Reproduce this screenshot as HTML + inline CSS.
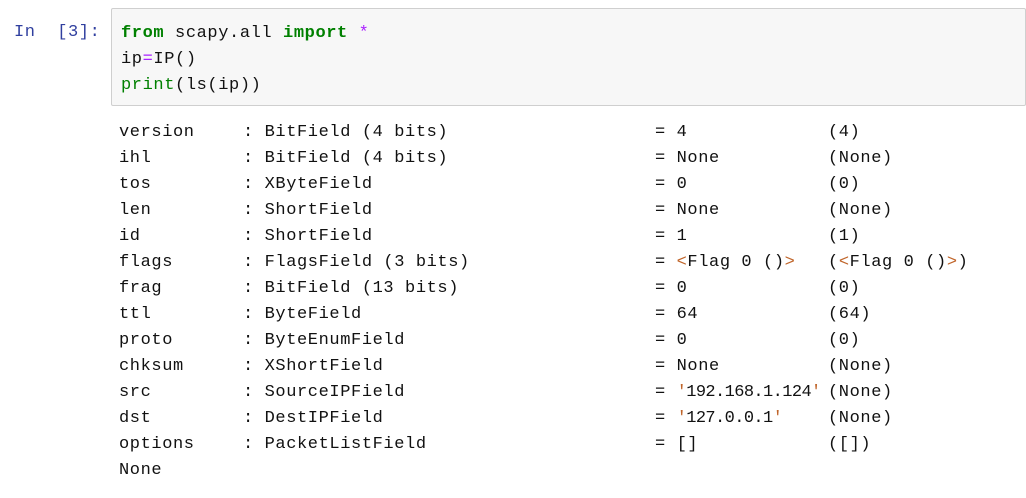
<!DOCTYPE html>
<html><head><meta charset="utf-8"><style>
body{margin:0;width:1026px;height:498px;background:#fff;position:relative;overflow:hidden;font-family:"Liberation Mono","Noto Sans CJK SC",monospace;font-size:17px;letter-spacing:0.6px;color:#111}
.a{position:absolute;white-space:pre;line-height:26px}
.box{position:absolute;left:111px;top:8px;width:913px;height:96px;background:#f7f7f7;border:1px solid #cfcfcf;border-radius:2px}
.k{color:#008000;font-weight:bold}.p{color:#aa22ff}.g{color:#008000}.o{color:#c0652a}
.n{letter-spacing:-0.6px}
</style></head><body>
<div class="a" style="left:14px;top:20px;color:#303f9f">In  [3]:</div>
<div class="box"></div>
<div class="a" style="left:121px;top:21px"><span class="k">from</span> scapy.all <span class="k">import</span> <span class="p">*</span>
ip<span class="p">=</span>IP()
<span class="g">print</span>(ls(ip))</div>
<div class="a" style="left:119px;top:120px">version
ihl
tos
len
id
flags
frag
ttl
proto
chksum
src
dst
options
None</div>
<div class="a" style="left:243px;top:120px">: BitField (4 bits)
: BitField (4 bits)
: XByteField
: ShortField
: ShortField
: FlagsField (3 bits)
: BitField (13 bits)
: ByteField
: ByteEnumField
: XShortField
: SourceIPField
: DestIPField
: PacketListField</div>
<div class="a" style="left:655px;top:120px">= 4
= None
= 0
= None
= 1
= <span class="o">&lt;</span>Flag 0 ()<span class="o">&gt;</span>
= 0
= 64
= 0
= None
= <span class="n"><span class="o">'</span>192.168.1.124<span class="o">'</span></span>
= <span class="n"><span class="o">'</span>127.0.0.1<span class="o">'</span></span>
= []</div>
<div class="a" style="left:828px;top:120px">(4)
(None)
(0)
(None)
(1)
(<span class="o">&lt;</span>Flag 0 ()<span class="o">&gt;</span>)
(0)
(64)
(0)
(None)
(None)
(None)
([])</div>
</body></html>
